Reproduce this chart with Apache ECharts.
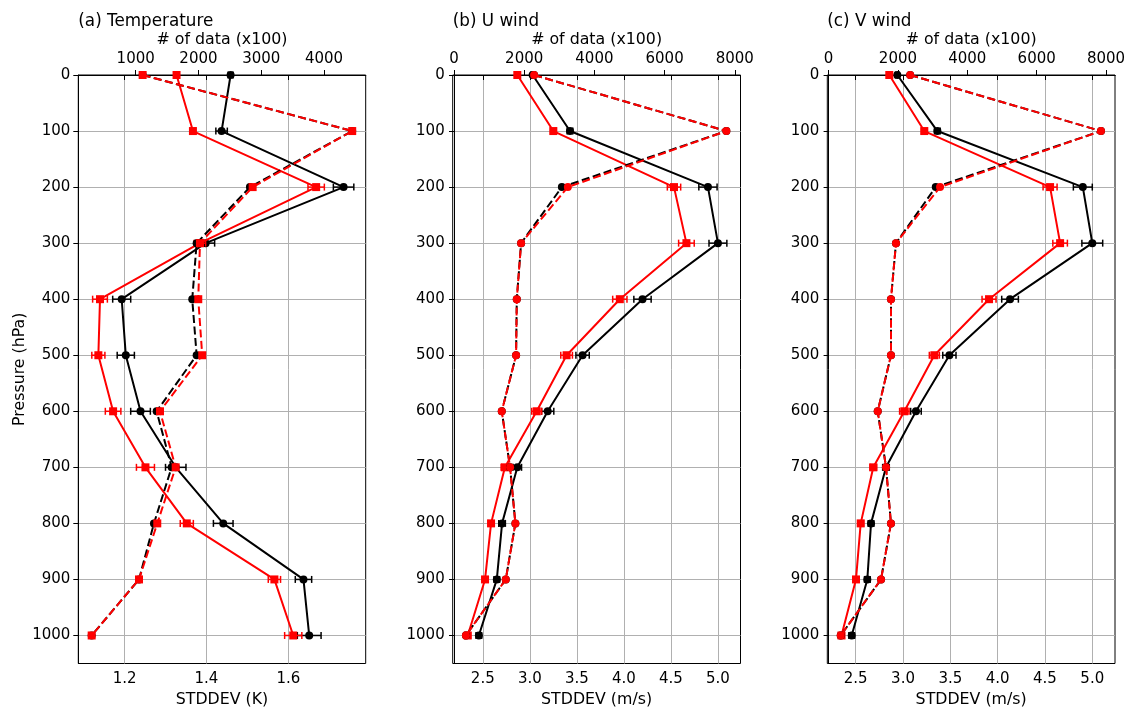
<!DOCTYPE html>
<html>
<head>
<meta charset="utf-8">
<script src="https://cdn.jsdelivr.net/npm/echarts@6/dist/echarts.min.js"></script>
<style>html,body{margin:0;padding:0;background:#fff}#c{width:1124px;height:707px}</style>
</head>
<body>
<div id="c"></div>
<script>
// ---------- data ----------
const pressure = [0, 100, 200, 300, 400, 500, 600, 700, 800, 900, 1000];
const pressureTicks = [0, 100, 200, 300, 400, 500, 600, 700, 800, 900, 1000];

const titles = ['(a) Temperature', '(b) U wind', '(c) V wind'];
const bottomNames = ['STDDEV (K)', 'STDDEV (m/s)', 'STDDEV (m/s)'];
const topName = '# of data (x100)';

// (a) Temperature
const tBlackStd = [1.459, 1.437, 1.735, 1.398, 1.193, 1.203, 1.239, 1.325, 1.441, 1.637, 1.651];
const tBlackErr = [0.006, 0.014, 0.025, 0.022, 0.022, 0.021, 0.024, 0.025, 0.024, 0.020, 0.029];
const tRedStd   = [1.327, 1.367, 1.668, 1.384, 1.140, 1.136, 1.172, 1.251, 1.352, 1.566, 1.612];
const tRedErr   = [0.004, 0.005, 0.020, 0.014, 0.018, 0.016, 0.019, 0.022, 0.016, 0.015, 0.021];
const tBlackNum = [1111, 4449, 2820, 1971, 1901, 1971, 1334, 1573, 1291, 1053, 299];
const tRedNum   = [1111, 4449, 2863, 2024, 1997, 2060, 1387, 1637, 1344, 1053, 299];

// (b) U wind
const uBlackStd = [3.030, 3.427, 4.894, 5.000, 4.198, 3.561, 3.190, 2.867, 2.705, 2.649, 2.458];
const uBlackErr = [0.020, 0.030, 0.097, 0.095, 0.092, 0.071, 0.065, 0.045, 0.035, 0.030, 0.030];
const uRedStd   = [2.867, 3.250, 4.533, 4.665, 3.957, 3.391, 3.073, 2.735, 2.588, 2.524, 2.340];
const uRedErr   = [0.020, 0.030, 0.071, 0.083, 0.076, 0.062, 0.053, 0.040, 0.030, 0.030, 0.030];
const uBlackNum = [2282, 7760, 3073, 1912, 1789, 1769, 1361, 1598, 1749, 1475, 340];
const uRedNum   = [2282, 7760, 3244, 1912, 1789, 1769, 1361, 1598, 1749, 1475, 340];

// (c) V wind
const vBlackStd = [2.940, 3.363, 4.900, 5.000, 4.131, 3.490, 3.137, 2.820, 2.662, 2.623, 2.458];
const vBlackErr = [0.020, 0.030, 0.100, 0.110, 0.088, 0.070, 0.056, 0.035, 0.030, 0.030, 0.030];
const vRedStd   = [2.855, 3.225, 4.554, 4.660, 3.909, 3.331, 3.014, 2.686, 2.553, 2.503, 2.350];
const vRedErr   = [0.020, 0.030, 0.074, 0.077, 0.074, 0.053, 0.050, 0.035, 0.030, 0.030, 0.030];
const vBlackNum = [2353, 7854, 3090, 1943, 1799, 1799, 1417, 1656, 1799, 1512, 350];
const vRedNum   = [2353, 7854, 3214, 1943, 1799, 1799, 1417, 1656, 1799, 1512, 350];

// tick labels
const bottomTicks = [[1.2, 1.4, 1.6], [2.5, 3.0, 3.5, 4.0, 4.5, 5.0], [2.5, 3.0, 3.5, 4.0, 4.5, 5.0]];
const topTicks = [[1000, 2000, 3000, 4000], [0, 2000, 4000, 6000, 8000], [0, 2000, 4000, 6000, 8000]];

// ---------- layout / style ----------
const FONT = 'DejaVu Sans';
const panels = [
  { left: 78.3, width: 287.4, bMin: 1.087, bMax: 1.789, tMin: 86, tMax: 4664, bDec: 1,
    bs: tBlackStd, be: tBlackErr, rs: tRedStd, re: tRedErr, bn: tBlackNum, rn: tRedNum },
  { left: 452.7, width: 287.8, bMin: 2.18, bMax: 5.24, tMin: -37, tMax: 8163, bDec: 1,
    bs: uBlackStd, be: uBlackErr, rs: uRedStd, re: uRedErr, bn: uBlackNum, rn: uRedNum },
  { left: 827.3, width: 287.7, bMin: 2.20, bMax: 5.24, tMin: -37, tMax: 8258, bDec: 1,
    bs: vBlackStd, be: vBlackErr, rs: vRedStd, re: vRedErr, bn: vBlackNum, rn: vRedNum }
];
const TOP = 75, HEIGHT = 588.5;
const BLACK = '#000000', RED = '#ff0000';

function pairs(xs) { return xs.map((v, i) => [v, pressure[i]]); }
function triples(xs, es) { return xs.map((v, i) => [v, pressure[i], es[i]]); }

function errRender(color) {
  return function (params, api) {
    const x = api.value(0), y = api.value(1), e = api.value(2);
    const p1 = api.coord([x - e, y]), p2 = api.coord([x + e, y]);
    const cap = 3.5;
    const st = { stroke: color, lineWidth: 1.5 };
    return { type: 'group', children: [
      { type: 'line', shape: { x1: p1[0], y1: p1[1], x2: p2[0], y2: p2[1] }, style: st },
      { type: 'line', shape: { x1: p1[0], y1: p1[1] - cap, x2: p1[0], y2: p1[1] + cap }, style: st },
      { type: 'line', shape: { x1: p2[0], y1: p2[1] - cap, x2: p2[0], y2: p2[1] + cap }, style: st }
    ]};
  };
}

const grid = [], xAxis = [], yAxis = [], series = [], title = [];
const axisLineStyle = { show: true, lineStyle: { color: '#000', width: 1 } };
const tickStyle = { show: true, length: 5, inside: false, lineStyle: { color: '#000', width: 1 } };
const labelText = { color: '#000', fontFamily: FONT, fontSize: 15 };

panels.forEach((p, i) => {
  grid.push({ left: p.left, top: TOP, width: p.width, height: HEIGHT, show: true,
    borderColor: '#000', borderWidth: 1, backgroundColor: 'transparent',
    containLabel: false, outerBoundsMode: 'none' });
  title.push({ text: titles[i], left: p.left, top: 13, padding: 0,
    textStyle: { fontFamily: FONT, fontSize: 16.8, fontWeight: 'normal', color: '#000' } });
  // bottom axis
  xAxis.push({ type: 'value', gridIndex: i, position: 'bottom', min: p.bMin, max: p.bMax,
    name: bottomNames[i], nameLocation: 'middle', nameGap: 28, nameMoveOverlap: false,
    nameTextStyle: { fontFamily: FONT, fontSize: 15.8, color: '#000' },
    axisLine: axisLineStyle, axisTick: Object.assign({ customValues: bottomTicks[i] }, tickStyle),
    axisLabel: Object.assign({ customValues: bottomTicks[i], margin: 8,
      formatter: v => Number(v).toFixed(p.bDec) }, labelText),
    splitLine: { show: true, lineStyle: { color: '#b0b0b0', width: 1 } } });
  // top axis
  xAxis.push({ type: 'value', gridIndex: i, position: 'top', min: p.tMin, max: p.tMax,
    name: topName, nameLocation: 'middle', nameGap: 27, nameMoveOverlap: false,
    nameTextStyle: { fontFamily: FONT, fontSize: 15.8, color: '#000' },
    axisLine: axisLineStyle, axisTick: Object.assign({ customValues: topTicks[i] }, tickStyle),
    axisLabel: Object.assign({ customValues: topTicks[i], margin: 8,
      formatter: v => String(Math.round(v)) }, labelText),
    splitLine: { show: false } });
  yAxis.push({ type: 'value', gridIndex: i, inverse: true, min: 0, max: 1050,
    name: i === 0 ? 'Pressure (hPa)' : '', nameLocation: 'middle', nameGap: 50,
    nameTextStyle: { fontFamily: FONT, fontSize: 15.8, color: '#000' },
    axisLine: axisLineStyle, axisTick: Object.assign({ customValues: pressureTicks }, tickStyle),
    axisLabel: Object.assign({ customValues: pressureTicks, margin: 8,
      formatter: v => String(Math.round(v)) }, labelText),
    splitLine: { show: true, lineStyle: { color: '#b0b0b0', width: 1 } } });

  const bx = 2 * i, tx = 2 * i + 1;
  // error bars
  series.push({ type: 'custom', xAxisIndex: bx, yAxisIndex: i, z: 3, silent: true,
    renderItem: errRender(BLACK), data: triples(p.bs, p.be), encode: { x: 0, y: 1 } });
  series.push({ type: 'line', xAxisIndex: bx, yAxisIndex: i, z: 4, data: pairs(p.bs),
    symbol: 'circle', symbolSize: 8, showAllSymbol: true,
    lineStyle: { color: BLACK, width: 2 }, itemStyle: { color: BLACK } });
  series.push({ type: 'custom', xAxisIndex: bx, yAxisIndex: i, z: 5, silent: true,
    renderItem: errRender(RED), data: triples(p.rs, p.re), encode: { x: 0, y: 1 } });
  series.push({ type: 'line', xAxisIndex: bx, yAxisIndex: i, z: 6, data: pairs(p.rs),
    symbol: 'rect', symbolSize: 8, showAllSymbol: true,
    lineStyle: { color: RED, width: 2 }, itemStyle: { color: RED } });
  // number of data (top axis)
  series.push({ type: 'line', xAxisIndex: tx, yAxisIndex: i, z: 7, data: pairs(p.bn),
    symbol: 'circle', symbolSize: 8, showAllSymbol: true,
    lineStyle: { color: BLACK, width: 2, type: [8, 3.5] }, itemStyle: { color: BLACK } });
  series.push({ type: 'line', xAxisIndex: tx, yAxisIndex: i, z: 8, data: pairs(p.rn),
    symbol: i === 0 ? 'rect' : 'circle', symbolSize: 8, showAllSymbol: true,
    lineStyle: { color: RED, width: 2, type: [8, 3.5] }, itemStyle: { color: RED } });
});

const chart = echarts.init(document.getElementById('c'), null, { renderer: 'canvas' });
chart.setOption({ animation: false, backgroundColor: '#fff', title, grid, xAxis, yAxis, series });
</script>
</body>
</html>
